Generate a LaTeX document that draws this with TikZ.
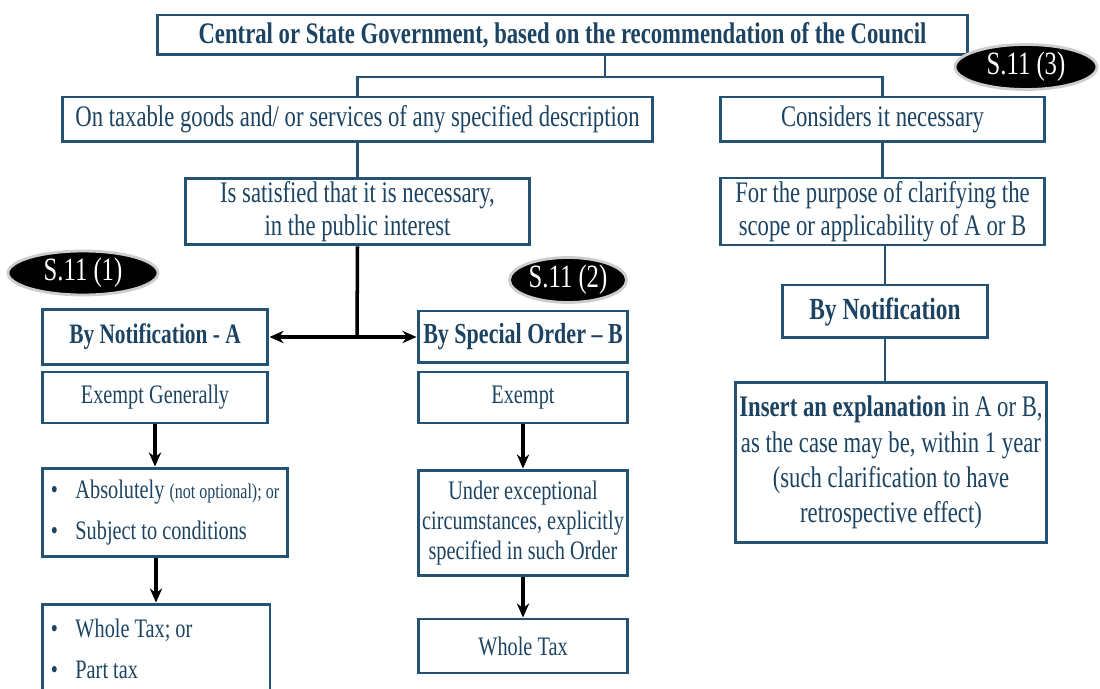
\documentclass[tikz,border=0pt]{standalone}
\usepackage{fontspec}
\setmainfont{Liberation Serif}[FakeStretch=0.76]
\usetikzlibrary{positioning}
\usetikzlibrary{arrows.meta}
\usetikzlibrary{shapes.geometric}

\definecolor{boxblue}{RGB}{35,82,115}
\definecolor{textblue}{RGB}{28,68,98}
\definecolor{rimgray}{RGB}{205,205,205}

\tikzset{
  box/.style={draw=boxblue, line width=1.7pt, fill=white, text=textblue, align=center,
    inner sep=2pt, font=\fontsize{17}{18.5}\selectfont},
  colbox/.style={box, font=\fontsize{15.2}{17}\selectfont},
  secbadge/.style={ellipse, fill=black, draw=rimgray, line width=1.6pt, text=white,
    inner sep=0pt, font=\fontsize{18.5}{20}\selectfont},
  link/.style={draw=boxblue, line width=1.2pt},
  flow/.style={draw=black, line width=2pt, -{Stealth[length=8pt,width=7pt]}},
}

\begin{document}
\begin{tikzpicture}[x=0.02cm, y=-0.02cm]
            \useasboundingbox (0,0) rectangle (1100,689);

            % Top row
            \node[box, minimum width=16.22cm, minimum height=0.8cm] (gov) at (562.5,35)
              {\textbf{Central or State Government, based on the recommendation of the Council}};
            \node[box, minimum width=11.82cm, minimum height=0.9cm] (goods) at (357.5,119.5)
              {On taxable goods and/ or services of any specified description};
            \node[box, minimum width=6.5cm, minimum height=0.9cm] (needed) at (882.5,119.5)
              {Considers it necessary};
            \node[box, minimum width=6.9cm, minimum height=1.26cm] (satisfied) at (357.5,211.5)
              {Is satisfied that it is necessary,\\ in the public interest};
            \node[box, minimum width=6.5cm, minimum height=1.26cm] (clarify) at (882.5,211.5)
              {For the purpose of clarifying the\\ scope or applicability of A or B};

            % Left branch -- S.11 (1)
            \node[colbox, minimum width=4.52cm, minimum height=1.1cm, font=\fontsize{16}{18}\selectfont] (notifA) at (155,337)
              {\textbf{By Notification - A}};
            \node[colbox, minimum width=4.52cm, minimum height=1.02cm] (exemptA) at (155,397.5)
              {Exempt Generally};
            \node[colbox, minimum width=4.92cm, minimum height=1.78cm, text width=4.78cm, align=flush left] (absol) at (165,512.5)
              {\hspace{3pt}\textbullet\hspace{10pt}Absolutely {\fontsize{12}{14}\selectfont(not optional); or}\\[6pt]
               \hspace{3pt}\textbullet\hspace{10pt}Subject to conditions};
            \node[colbox, minimum width=4.56cm, minimum height=1.8cm, text width=4.42cm, align=flush left] (wholeA) at (156,649)
              {\hspace{3pt}\textbullet\hspace{10pt}Whole Tax; or\\[6pt]
               \hspace{3pt}\textbullet\hspace{10pt}Part tax};

            % Middle branch -- S.11 (2)
            \node[colbox, minimum width=4.2cm, minimum height=1.04cm, font=\fontsize{16.5}{18}\selectfont] (orderB) at (523,337)
              {\textbf{By Special Order -- B}};
            \node[colbox, minimum width=4.2cm, minimum height=1.02cm] (exemptB) at (523,397.5)
              {Exempt};
            \node[colbox, minimum width=4.2cm, minimum height=2.12cm] (except) at (523,523)
              {Under exceptional\\ circumstances, explicitly\\ specified in such Order};
            \node[colbox, minimum width=4.2cm, minimum height=1.08cm] (wholeB) at (523,646)
              {Whole Tax};

            % Right branch -- S.11 (3)
            \node[box, minimum width=4.1cm, minimum height=1.06cm, font=\fontsize{17.5}{20}\selectfont] (bynotif) at (885,311.5)
              {\textbf{By Notification}};
            \node[box, minimum width=6.16cm, minimum height=3.22cm, font=\fontsize{17}{20}\selectfont] (explain) at (891,462.5)
              {\textbf{Insert an explanation} in A or B,\\ as the case may be, within 1 year\\
               (such clarification to have\\ retrospective effect)};

            % Badges
            \node[secbadge, minimum width=2.84cm, minimum height=0.9cm] (sec3) at (1026,67) {S.11 (3)};
            \node[secbadge, minimum width=3.0cm, minimum height=0.88cm] (sec1) at (83,273) {S.11 (1)};
            \node[secbadge, minimum width=2.34cm, minimum height=0.9cm] (sec2) at (568,280) {S.11 (2)};

            % Connectors
            \coordinate (split) at (605,77);
            \draw[link] (gov.south -| split) -- (split);
            \draw[link] (goods.north) |- (split) -| (needed.north);
            \draw[link] (goods) -- (satisfied);
            \draw[link] (needed) -- (clarify);
            \draw[link] (clarify.south -| bynotif.north) -- (bynotif.north);
            \draw[link] (bynotif.south) -- (bynotif.south |- explain.north);

            % Fork to A and B
            \coordinate (fork) at (357,337);
            \draw[line width=2pt] (satisfied.south) -- (fork);
            \draw[flow] (fork) -- (notifA.east);
            \draw[flow] (fork) -- (orderB.west);

            % Arrows down
            \draw[flow] (exemptA.south) -- (exemptA.south |- absol.north);
            \draw[flow] (wholeA.north |- absol.south) -- (wholeA.north);
            \draw[flow] (exemptB) -- (except);
            \draw[flow] (except) -- (wholeB);
        \end{tikzpicture}
\end{document}
